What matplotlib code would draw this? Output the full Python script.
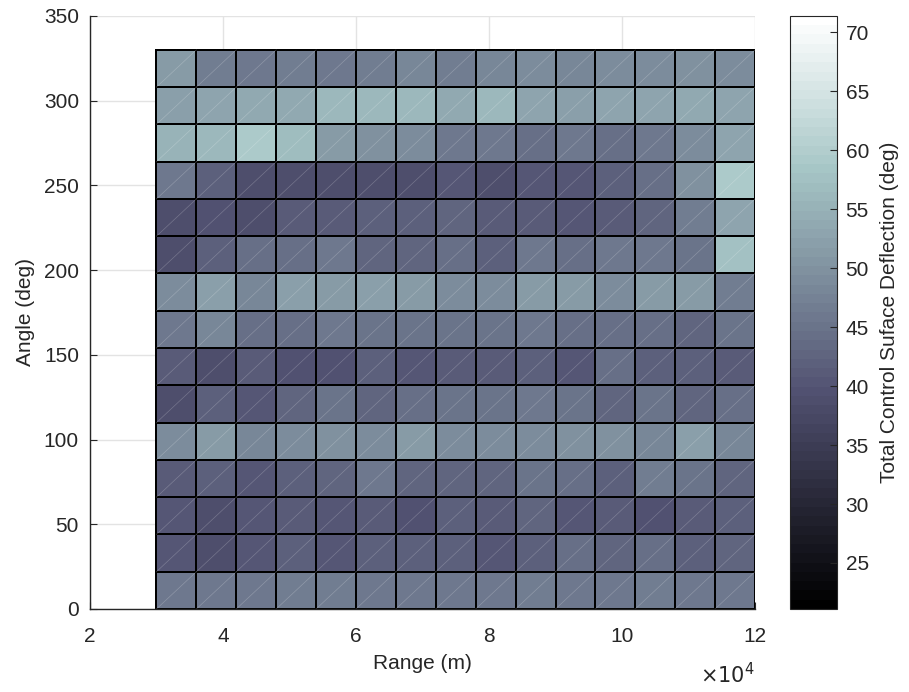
import numpy as np
import matplotlib
matplotlib.use("Agg")
import matplotlib.pyplot as plt

plt.rcParams['font.family'] = ['Liberation Sans', 'DejaVu Sans']

# cell edges: range (m) and angle (deg)
range_edges = np.arange(30000, 120001, 6000)
angle_edges = np.arange(0, 331, 22)

# total control surface deflection (deg), rows from angle 0 upward
deflection = np.array([
    [46, 46, 46, 47, 46.5, 46, 46, 46, 46, 46.5, 46, 46, 46.5, 46, 46],
    [40, 39, 40, 42, 40.5, 42, 42, 42, 40, 42, 44, 43, 44, 42, 43],
    [40, 38.5, 40, 41, 40.5, 41, 39.5, 42, 41, 43, 40, 41, 39.5, 41.5, 42],
    [41, 42, 40, 42, 43, 46, 43, 43, 43, 45, 44, 42, 47, 45, 43],
    [49, 51, 48, 49, 50, 49, 51, 49, 49, 49, 50, 50, 48, 52, 48],
    [39, 42, 40, 43, 45, 43, 44, 45, 45, 46, 45, 43, 45, 43, 44],
    [41, 39, 41, 39.5, 39.5, 42, 40, 41, 41, 42, 40, 44, 42, 42, 41],
    [46, 48, 44, 44, 46, 45, 45, 45, 45, 46, 44, 44.5, 44, 43, 45],
    [49, 52, 48, 52, 51, 52, 51, 49, 49, 51, 51, 49, 51, 51, 47],
    [39, 42, 44, 44, 46, 43, 43, 44, 42, 46, 44, 46, 46, 45, 58],
    [39, 39.5, 39, 41, 41, 42, 42, 43, 41, 41, 40.5, 41.5, 43, 47, 53],
    [46, 42, 39, 39, 39, 39, 39, 40, 38.5, 40, 40, 42, 44, 50, 59],
    [55, 56, 59, 57, 51, 50, 49, 46, 46, 44, 46, 44, 46, 49, 53],
    [52, 53, 54, 54, 56, 56, 56, 54, 56, 53, 52, 53, 53, 54, 53],
    [51, 47, 46, 47, 46, 47, 48, 47, 48, 49, 48, 49, 49, 50, 49],
])

fs = 15
ink = '#262626'

fig = plt.figure(figsize=(9.09, 6.92), dpi=100)
ax = fig.add_axes([0.099, 0.12, 0.7316, 0.857])
cax = fig.add_axes([0.869, 0.12, 0.052, 0.857])

cmap = plt.get_cmap('bone', 64)
mesh = ax.pcolormesh(range_edges, angle_edges, deflection, cmap=cmap,
                     vmin=21.1, vmax=71.4, edgecolors='black',
                     linewidth=1.2, zorder=2)

# faint triangle seams inside each face
for i in range(len(range_edges) - 1):
    for j in range(len(angle_edges) - 1):
        ax.plot(range_edges[i:i + 2], angle_edges[j:j + 2], color='white',
                lw=0.5, alpha=0.22, zorder=2.5)

ax.set_xlim(20000, 120000)
ax.set_ylim(0, 350)
ax.set_xticks(np.arange(20000, 120001, 20000))
ax.set_xticklabels(['2', '4', '6', '8', '10', '12'])
ax.set_yticks(np.arange(0, 351, 50))
ax.grid(True, color='#e3e3e3', lw=1.0, zorder=0)
ax.set_axisbelow(True)
for side in ['top', 'right']:
    ax.spines[side].set_visible(False)
for side in ['left', 'bottom']:
    ax.spines[side].set_color(ink)
    ax.spines[side].set_linewidth(1.0)
ax.tick_params(direction='in', length=5, labelsize=fs, colors=ink)
ax.tick_params(axis='x', pad=13)
ax.tick_params(axis='y', pad=8)
ax.set_xlabel('Range (m)', fontsize=fs, color=ink, labelpad=6)
ax.set_ylabel('Angle (deg)', fontsize=fs, color=ink, labelpad=6)
ax.text(1.0, -0.111, r'$\times10^4$', transform=ax.transAxes, ha='right',
        va='center', fontsize=fs, color=ink)

cb = fig.colorbar(mesh, cax=cax)
cb.set_ticks(np.arange(25, 71, 5))
cb.ax.tick_params(direction='in', length=5, labelsize=fs, colors=ink, pad=6)
cb.outline.set_edgecolor(ink)
cb.set_label('Total Control Suface Deflection (deg)', fontsize=fs,
             color=ink, labelpad=8)

fig.savefig('out.png', dpi=100)
